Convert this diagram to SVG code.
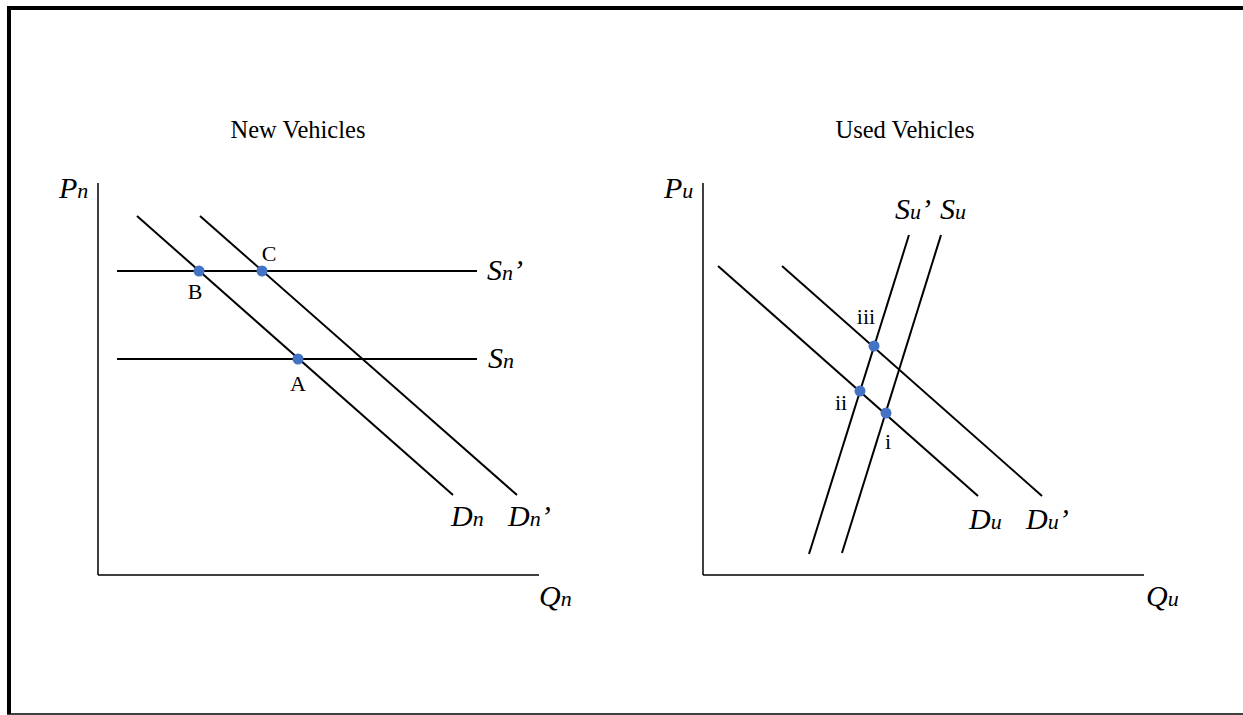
<svg xmlns="http://www.w3.org/2000/svg" width="1243" height="715" viewBox="0 0 1243 715">
<style>
.frame{fill:none;stroke:#000}
.axis{stroke:#000;stroke-width:1.5;fill:none}
.curve{stroke:#000;stroke-width:2;fill:none}
.pt{fill:#4472C4}
.title{font-family:"Liberation Serif",serif;font-size:24.5px;fill:#000;text-anchor:middle}
.lbl{font-family:"Liberation Serif",serif;font-size:22px;fill:#000;text-anchor:middle}
.it{font-family:"Liberation Serif",serif;font-style:italic;font-size:30px;fill:#000}
.sub{font-size:22px}
</style>
<rect width="1243" height="715" fill="#fff"/>
<g id="frame">
<line class="frame" x1="9" y1="8" x2="1243" y2="8" stroke-width="4"/>
<line class="frame" x1="9" y1="6" x2="9" y2="714" stroke-width="4"/>
<line class="frame" x1="7" y1="714" x2="1243" y2="714" stroke-width="1.5"/>
</g>
<g id="new-vehicles">
<text class="title" x="298" y="138">New Vehicles</text>
<g id="new-axes">
<line class="axis" x1="98" y1="183" x2="98" y2="575"/>
<line class="axis" x1="98" y1="575" x2="539" y2="575"/>
<text class="it" x="59" y="198">P<tspan class="sub">n</tspan></text>
<text class="it" x="539" y="606">Q<tspan class="sub">n</tspan></text>
</g>
<g id="connectors-new">
<line class="curve" x1="117" y1="271" x2="477" y2="271"/>
<line class="curve" x1="117" y1="359" x2="477" y2="359"/>
<line class="curve" x1="137" y1="216" x2="453" y2="495"/>
<line class="curve" x1="200" y1="216" x2="517" y2="495"/>
</g>
<text class="it" x="487" y="280">S<tspan class="sub">n</tspan>’</text>
<text class="it" x="488" y="368">S<tspan class="sub">n</tspan></text>
<text class="it" x="451" y="526">D<tspan class="sub">n</tspan></text>
<text class="it" x="508" y="526">D<tspan class="sub">n</tspan>’</text>
<g id="point-B"><circle class="pt" cx="199" cy="271" r="5.5"/><text class="lbl" x="195" y="299">B</text></g>
<g id="point-C"><circle class="pt" cx="262" cy="271" r="5.5"/><text class="lbl" x="269" y="261">C</text></g>
<g id="point-A"><circle class="pt" cx="298" cy="359" r="5.5"/><text class="lbl" x="298" y="391">A</text></g>
</g>
<g id="used-vehicles">
<text class="title" x="905" y="138">Used Vehicles</text>
<g id="used-axes">
<line class="axis" x1="703" y1="183" x2="703" y2="575"/>
<line class="axis" x1="703" y1="575" x2="1144" y2="575"/>
<text class="it" x="664" y="198">P<tspan class="sub">u</tspan></text>
<text class="it" x="1146" y="606">Q<tspan class="sub">u</tspan></text>
</g>
<g id="connectors-used">
<line class="curve" x1="718" y1="266" x2="978" y2="496"/>
<line class="curve" x1="782" y1="266" x2="1042" y2="496"/>
<line class="curve" x1="909" y1="235" x2="809" y2="554"/>
<line class="curve" x1="941" y1="235" x2="842" y2="553"/>
</g>
<text class="it" x="895" y="219">S<tspan class="sub">u</tspan>’</text>
<text class="it" x="940" y="219">S<tspan class="sub">u</tspan></text>
<text class="it" x="969" y="529">D<tspan class="sub">u</tspan></text>
<text class="it" x="1026" y="529">D<tspan class="sub">u</tspan>’</text>
<g id="point-iii"><circle class="pt" cx="874" cy="346" r="5.5"/><text class="lbl" x="866" y="324">iii</text></g>
<g id="point-ii"><circle class="pt" cx="860" cy="391" r="5.5"/><text class="lbl" x="841" y="410">ii</text></g>
<g id="point-i"><circle class="pt" cx="886" cy="413" r="5.5"/><text class="lbl" x="888" y="449">i</text></g>
</g>
</svg>
